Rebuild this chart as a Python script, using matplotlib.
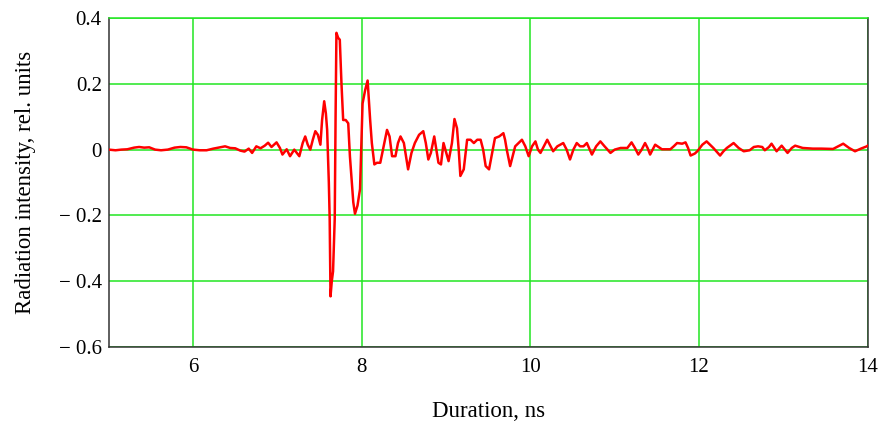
import matplotlib
matplotlib.use("Agg")
import matplotlib.pyplot as plt

time_ns = [5.00, 5.08, 5.15, 5.22, 5.30, 5.36, 5.42, 5.48, 5.55, 5.62, 5.70, 5.78, 5.85, 5.92,
           6.00, 6.08, 6.16, 6.24, 6.32, 6.38, 6.44, 6.50, 6.56, 6.61, 6.66, 6.70, 6.75, 6.80,
           6.85, 6.89, 6.93, 6.99, 7.03, 7.06, 7.11, 7.15, 7.20, 7.26, 7.30, 7.33, 7.36, 7.39,
           7.42, 7.45, 7.48, 7.51, 7.53, 7.555, 7.575, 7.59, 7.61, 7.62, 7.63, 7.645, 7.66, 7.68,
           7.69, 7.70, 7.72, 7.74, 7.76, 7.78, 7.81, 7.84, 7.86, 7.88, 7.90, 7.92, 7.95, 7.98,
           8.00, 8.01, 8.04, 8.07, 8.10, 8.12, 8.15, 8.18, 8.22, 8.26, 8.30, 8.33, 8.36, 8.40,
           8.43, 8.46, 8.50, 8.55, 8.59, 8.63, 8.68, 8.73, 8.76, 8.79, 8.82, 8.86, 8.91, 8.94,
           8.97, 9.03, 9.07, 9.10, 9.13, 9.15, 9.17, 9.21, 9.25, 9.29, 9.33, 9.37, 9.41, 9.44,
           9.47, 9.51, 9.54, 9.58, 9.63, 9.68, 9.70, 9.72, 9.76, 9.79, 9.82, 9.86, 9.90, 9.94,
           9.98, 10.02, 10.06, 10.09, 10.12, 10.16, 10.20, 10.24, 10.27, 10.32, 10.39, 10.43,
           10.47, 10.51, 10.55, 10.59, 10.63, 10.67, 10.73, 10.78, 10.83, 10.88, 10.95, 11.00,
           11.07, 11.15, 11.20, 11.24, 11.28, 11.32, 11.36, 11.39, 11.42, 11.48, 11.56, 11.66,
           11.70, 11.74, 11.80, 11.84, 11.87, 11.90, 11.95, 11.98, 12.04, 12.09, 12.13, 12.17,
           12.25, 12.29, 12.33, 12.41, 12.47, 12.53, 12.60, 12.65, 12.70, 12.75, 12.78, 12.83,
           12.86, 12.92, 12.98, 13.05, 13.10, 13.14, 13.23, 13.35, 13.45, 13.59, 13.65, 13.71,
           13.78, 13.85, 13.92, 13.99, 14.00]

intensity = [0.000, -0.002, 0.000, 0.001, 0.006, 0.008, 0.006, 0.007, 0.000, -0.002, 0.000, 0.006, 0.008, 0.007,
             0.000, -0.002, -0.002, 0.003, 0.007, 0.010, 0.005, 0.004, -0.003, -0.006, 0.003, -0.010, 0.010, 0.004,
             0.012, 0.021, 0.008, 0.022, 0.005, -0.015, 0.001, -0.020, 0.000, -0.020, 0.020, 0.040, 0.015, 0.000,
             0.030, 0.056, 0.045, 0.015, 0.090, 0.147, 0.110, 0.060, -0.100, -0.210, -0.446, -0.400, -0.370, -0.210,
             0.100, 0.355, 0.340, 0.334, 0.200, 0.090, 0.090, 0.080, -0.020, -0.090, -0.160, -0.195, -0.170, -0.120,
             0.060, 0.140, 0.180, 0.210, 0.090, 0.020, -0.045, -0.040, -0.040, 0.010, 0.060, 0.040, -0.020, -0.020,
             0.020, 0.040, 0.020, -0.060, -0.010, 0.020, 0.045, 0.056, 0.020, -0.030, -0.010, 0.040, -0.040, -0.045,
             0.020, -0.035, 0.020, 0.093, 0.065, 0.000, -0.080, -0.060, 0.030, 0.030, 0.020, 0.030, 0.030, 0.000,
             -0.050, -0.060, -0.020, 0.035, 0.040, 0.050, 0.030, 0.000, -0.050, -0.020, 0.010, 0.020, 0.030, 0.010,
             -0.020, 0.010, 0.025, 0.000, -0.010, 0.010, 0.030, 0.010, -0.005, 0.010, 0.020, 0.000,
             -0.030, 0.000, 0.020, 0.010, 0.010, 0.020, -0.015, 0.010, 0.025, 0.010, -0.010, 0.000,
             0.005, 0.005, 0.022, 0.005, -0.015, 0.000, 0.020, 0.005, -0.015, 0.015, 0.001, 0.001,
             0.010, 0.020, 0.018, 0.022, 0.005, -0.018, -0.012, -0.005, 0.015, 0.025, 0.015, 0.005,
             -0.018, -0.005, 0.005, 0.020, 0.005, -0.005, -0.002, 0.008, 0.010, 0.008, -0.002, 0.008,
             0.018, -0.005, 0.012, -0.010, 0.005, 0.012, 0.005, 0.003, 0.003, 0.002, 0.010, 0.018,
             0.005, -0.005, 0.003, 0.010, 0.012]

x_ticks = [6, 8, 10, 12, 14]
x_tick_labels = ["6", "8", "10", "12", "14"]
y_ticks = [-0.6, -0.4, -0.2, 0.0, 0.2, 0.4]
y_tick_labels = ["\u2212 0.6", "\u2212 0.4", "\u2212 0.2", "0", "0.2", "0.4"]

plt.rcParams['font.family'] = ['Liberation Serif', 'DejaVu Serif']

fig = plt.figure(figsize=(8.87, 4.25), dpi=100)
ax = fig.add_axes([0.1226, 0.1835, 0.8556, 0.7741])

grid_color = '#22e622'
ax.set_xlim(5, 14)
ax.set_ylim(-0.6, 0.4)
ax.set_xticks(x_ticks)
ax.set_xticklabels(x_tick_labels)
ax.set_yticks(y_ticks)
ax.set_yticklabels(y_tick_labels)
ax.grid(True, color=grid_color, linewidth=1.1)
ax.set_axisbelow(True)
ax.tick_params(axis='both', length=0, labelsize=15)
ax.tick_params(axis='x', pad=8)
ax.tick_params(axis='y', pad=5)

ax.plot(time_ns, intensity, color='#ff0000', linewidth=1.8, zorder=3)

for side in ['left', 'bottom', 'right']:
    ax.spines[side].set_color('#333333')
    ax.spines[side].set_linewidth(1.1)
ax.spines['top'].set_color(grid_color)
ax.spines['top'].set_linewidth(1.1)

ax.set_xlabel("Duration, ns", fontsize=16.5, labelpad=17)
ax.set_ylabel("Radiation intensity, rel. units", fontsize=16.5, labelpad=16)

fig.savefig("out.png", dpi=100)
